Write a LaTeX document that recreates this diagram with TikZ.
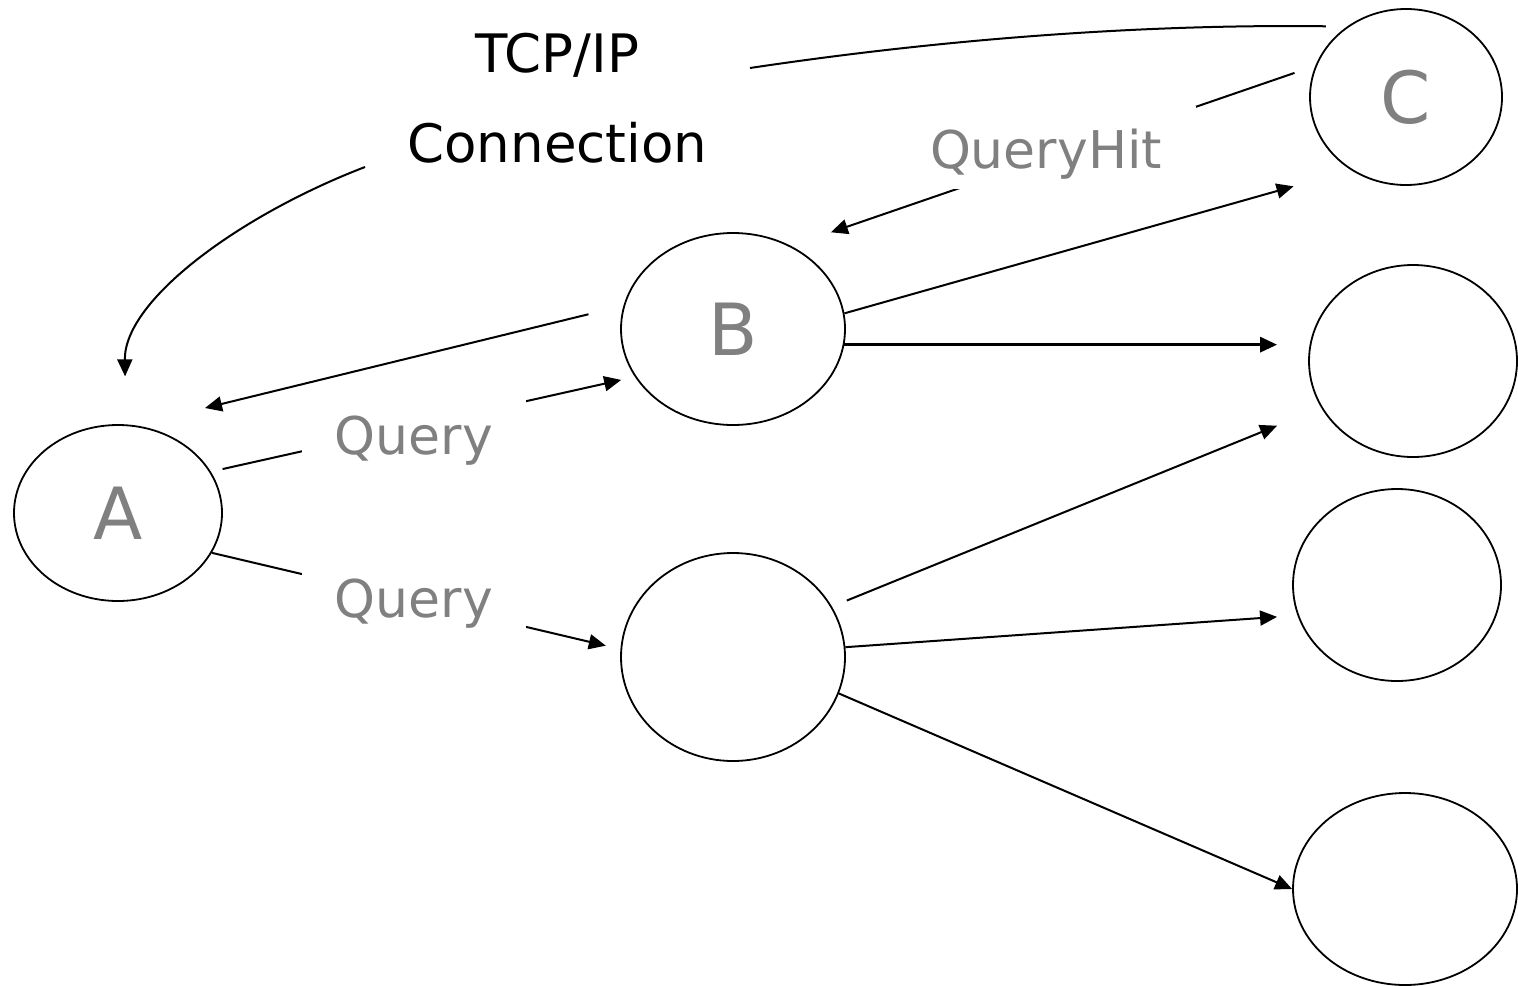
\documentclass[tikz,border=0pt]{standalone}
\usepackage{fontspec}
\setmainfont{DejaVu Sans}
\usetikzlibrary{shapes.geometric,arrows.meta}
\definecolor{lbl}{RGB}{128,128,128}
\begin{document}
\begin{tikzpicture}[x=0.5pt,y=-0.5pt,
  peer/.style={draw,ellipse,line width=0.9pt,inner sep=0pt,text=lbl,font=\fontsize{36}{40}\selectfont},
  link/.style={line width=1pt,-{Triangle[length=8.5pt,width=7.5pt]}},
  plain/.style={line width=1pt},
  msg/.style={fill=white,text=lbl,font=\fontsize{26}{30}\selectfont,inner ysep=0pt,anchor=base}]
\useasboundingbox (0,0) rectangle (1518,985);

% peers
\node[peer,minimum width=104pt,minimum height=88pt] (A) at (118,513) {A};
\node[peer,minimum width=112pt,minimum height=96pt] (B) at (733,329) {B};
\node[peer,minimum width=112pt,minimum height=104pt] (D) at (733,657) {};
\node[peer,minimum width=96pt,minimum height=88pt] (C) at (1406,97) {C};
\node[peer,minimum width=104pt,minimum height=96pt] (R2) at (1413,361) {};
\node[peer,minimum width=104pt,minimum height=96pt] (R3) at (1397,585) {};
\node[peer,minimum width=112pt,minimum height=96pt] (R4) at (1405,889) {};

% TCP/IP connection label
\node[font=\fontsize{26.5}{45}\selectfont,align=center,inner sep=0pt] (tcp) at (557.5,98) {TCP/IP\\Connection};
\coordinate (tcpR) at (750,68);
\coordinate (tcpL) at (365,167);
\coordinate (AtipB) at (205,408);

% TCP/IP connection from C to A
\draw[plain,shorten <=10.5pt] (C.130) .. controls (1150,24) and (950,38) .. (tcpR);
\draw[link,shorten >=24pt] (tcpL) .. controls (240,215) and (124,300) .. (A.85);

% queries and hits
\draw[link,shorten <=6pt,shorten >=7pt] (A.24) -- (B.206);
\draw[link,shorten >=7.5pt] (A.337) -- (D.176);
\draw[link,shorten <=18pt] (B.168) -- (AtipB);
\draw[link,shorten <=11pt,shorten >=21pt] (C.161) -- (B.55);

% forwarding
\draw[link,line width=1pt,shorten >=29.8pt] (B.8) -- (C.233);
\draw[link,line width=1.5pt,shorten >=15.5pt] (B.352) -- (B.352 -| R2.west);
\draw[link,shorten <=8pt,shorten >=23.8pt] (D.27) -- (R2.207);
\draw[link,shorten >=10.2pt] (D.5) -- (R3.197);
\draw[link] (D.341) -- (R4.west);

% message labels
\node[msg,minimum width=112pt,text height=30pt,text depth=8pt] (q1) at (414,454) {Query};
\node[msg,minimum width=112pt,text height=26pt,text depth=12.5pt] (q2) at (414,617) {Query};
\node[msg,minimum width=150pt,text height=31.25pt,text depth=10.25pt] (qh) at (1046,168) {QueryHit};
\end{tikzpicture}
\end{document}
